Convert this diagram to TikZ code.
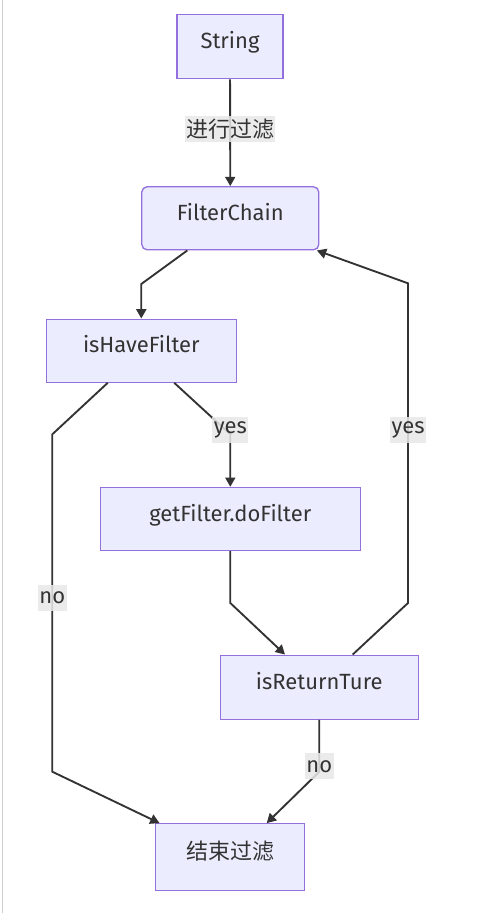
\documentclass[tikz,border=0pt]{standalone}
\usepackage{fontspec}
\setmainfont{Fira Sans}
\newfontfamily\cjk{Noto Sans CJK SC}
\usetikzlibrary{arrows.meta,calc}
\definecolor{nodefill}{HTML}{ECECFF}
\definecolor{nodedraw}{HTML}{9370DB}
\definecolor{edgecol}{HTML}{333333}
\definecolor{lblfill}{HTML}{E8E8E8}
\definecolor{framegray}{HTML}{D0D0D0}
\begin{document}
\begin{tikzpicture}[x=0.75pt,y=-0.75pt,
 box/.style={draw=nodedraw,fill=nodefill,line width=1pt,inner sep=0pt,text=edgecol,text height=9pt,text depth=6pt,font=\fontsize{16.5}{19}\selectfont},
 edge/.style={draw=edgecol,line width=1.4pt,-{Triangle[length=7pt,width=7.5pt]}},
 lbl/.style={fill=lblfill,fill opacity=0.85,text opacity=1,text=edgecol,inner sep=1pt,minimum height=19.5pt,font=\fontsize{16.5}{19}\selectfont}]
\useasboundingbox (0,0) rectangle (503,914);
\draw[framegray,line width=0.9pt] (2.5,0) -- (2.5,913);
% nodes
\node[box,minimum width=106*0.75pt,minimum height=64*0.75pt] (str) at (230,46.7) {String};
\node[box,rounded corners=4pt,minimum width=177*0.75pt,minimum height=63*0.75pt] (fc) at (230.3,218.3) {FilterChain};
\node[box,minimum width=190*0.75pt,minimum height=63*0.75pt] (ihf) at (141.3,350.7) {isHaveFilter};
\node[box,minimum width=260*0.75pt,minimum height=63*0.75pt] (gf) at (230.3,519) {getFilter.doFilter};
\node[box,minimum width=198*0.75pt,minimum height=64*0.75pt] (irt) at (319.2,687.2) {isReturnTure};
\node[box,minimum width=149*0.75pt,minimum height=67*0.75pt] (end) at (230,857.3) {\cjk 结束过滤};
% edges
\draw[edge] (str) -- (fc);
\node[lbl] (l1) at (230,129) {\cjk 进行过滤};
\draw[edge] ($(fc.south)+(-43,0)$) -- (141.3,284) -- (ihf.north);
\draw[edge] ($(ihf.south)+(-33.6,0)$) -- (52.3,434.3) -- (52.3,771.7) -- ($(end.north west)+(4.7,0)$);
\node[lbl] (l2) at (52.3,598) {no};
\draw[edge] ($(ihf.south)+(33,0)$) -- (230.3,434.3) -- (gf.north);
\node[lbl] (l3) at (230.3,430.3) {yes};
\draw[edge] (gf.south) -- (230.3,603) -- ($(irt.north)+(-34.2,0)$);
\draw[edge] ($(irt.north)+(33.5,0)$) -- (408,603) -- (408,283.3) -- ($(fc.south east)+(-2.6,0)$);
\node[lbl] (l4) at (408,430.3) {yes};
\draw[edge] (irt.south) -- (319.3,771.7) -- ($(end.north)+(36.7,0)$);
\node[lbl] (l5) at (319.3,766.2) {no};
\end{tikzpicture}
\end{document}
